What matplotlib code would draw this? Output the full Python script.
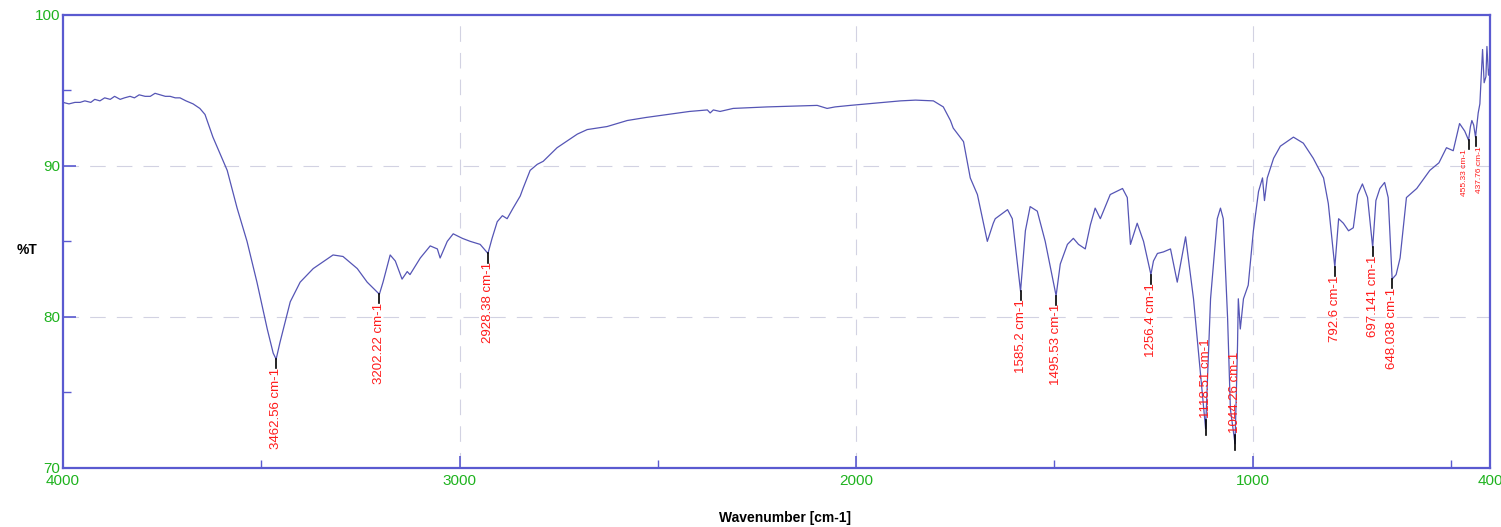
import matplotlib.pyplot as plt
import numpy as np

plt.rcParams['font.family'] = ['Liberation Sans', 'DejaVu Sans']

# FTIR spectrum, wavenumber (cm-1) and transmittance (%T)
wavenumber = [
    4000, 3985, 3970, 3957, 3945, 3930, 3920, 3907, 3895, 3881, 3870, 3856,
    3845, 3831, 3820, 3808, 3793, 3780, 3768, 3755, 3742, 3730, 3717, 3705,
    3690, 3672, 3655, 3642, 3622, 3586, 3561, 3536, 3511, 3485, 3470, 3462.56,
    3453, 3427, 3402, 3369, 3319, 3294, 3258, 3233, 3202.22, 3193, 3175, 3162,
    3145, 3132, 3125, 3099, 3074, 3056, 3049, 3031, 3016, 2993, 2973, 2948,
    2928.38, 2918, 2905, 2892, 2880, 2865, 2847, 2840, 2822, 2804, 2789, 2754,
    2703, 2678, 2628, 2577, 2530, 2476, 2420, 2375, 2368, 2360, 2343, 2310,
    2224, 2160, 2098, 2073, 2053, 2015, 1972, 1930, 1888, 1850, 1805, 1780,
    1762, 1755, 1729, 1712, 1694,
    1669, 1654, 1649, 1618, 1606, 1585.2, 1573, 1561, 1543, 1523, 1495.53, 1485,
    1467, 1452, 1439, 1422, 1409, 1397, 1384, 1359, 1328, 1316, 1308, 1291,
    1275, 1256.4, 1250, 1240, 1225, 1207, 1190, 1169, 1149, 1118.51, 1106, 1089,
    1081, 1074, 1063, 1056, 1044.26, 1038, 1036, 1031, 1023, 1011, 998, 985,
    975, 970, 963, 947, 930, 897, 872, 847, 821, 809, 792.6, 783,
    771, 758, 746, 735, 723, 710, 697.141, 689, 679, 667, 658, 648.038,
    638, 628, 612, 586, 553, 530, 511, 494, 478, 465, 455.33, 450.6,
    447, 442.4, 437.76, 431, 426.8, 420, 416, 411.5, 409, 405, 400,
]
transmittance = [
    94.2, 94.1, 94.2, 94.2, 94.3, 94.2, 94.4, 94.3, 94.5, 94.4, 94.6, 94.4,
    94.5, 94.6, 94.5, 94.7, 94.6, 94.6, 94.8, 94.7, 94.6, 94.6, 94.5, 94.5,
    94.3, 94.1, 93.8, 93.4, 91.9, 89.7, 87.2, 85.0, 82.3, 79.2, 77.6, 77.2,
    78.3, 81.0, 82.3, 83.2, 84.1, 84.0, 83.2, 82.3, 81.5, 82.3, 84.1, 83.7,
    82.5, 83.0, 82.8, 83.9, 84.7, 84.5, 83.9, 85.0, 85.5, 85.2, 85.0, 84.8,
    84.2, 85.2, 86.3, 86.7, 86.5, 87.2, 88.0, 88.5, 89.7, 90.1, 90.3, 91.2,
    92.1, 92.4, 92.6, 93.0, 93.2, 93.4, 93.6, 93.7, 93.5, 93.7, 93.6, 93.8,
    93.9, 93.95, 94.0, 93.8, 93.9, 94.0, 94.1, 94.2, 94.3, 94.35, 94.3, 93.9,
    93.0, 92.5, 91.6, 89.2, 88.1,
    85.0, 86.2, 86.5, 87.1, 86.5, 81.7, 85.7, 87.3, 87.0, 85.0, 81.4, 83.5,
    84.8, 85.2, 84.8, 84.5, 86.1, 87.2, 86.5, 88.1, 88.5, 87.9, 84.8, 86.2,
    85.0, 82.8, 83.7, 84.2, 84.3, 84.5, 82.3, 85.3, 81.2, 72.6, 81.2, 86.5,
    87.2, 86.5, 79.9, 73.9, 71.6, 78.1, 81.2, 79.2, 81.2, 82.1, 85.7, 88.3,
    89.2, 87.7, 89.2, 90.5, 91.3, 91.9, 91.5, 90.5, 89.2, 87.5, 83.3, 86.5,
    86.2, 85.7, 85.9, 88.1, 88.8, 87.9, 84.6, 87.7, 88.5, 88.9, 87.9, 82.5,
    82.8, 83.9, 87.9, 88.5, 89.7, 90.2, 91.2, 91.0, 92.8, 92.3, 91.7, 92.6,
    93.0, 92.7, 91.9, 93.5, 94.1, 97.7, 95.5, 95.9, 97.9, 96.0, 96.8,
]

# labelled absorption bands
peak_wn = [3462.56, 3202.22, 2928.38, 1585.2, 1495.53, 1256.4, 1118.51,
           1044.26, 792.6, 697.141, 648.038, 455.33, 437.76]
peak_text = ['3462.56 cm-1', '3202.22 cm-1', '2928.38 cm-1', '1585.2 cm-1',
             '1495.53 cm-1', '1256.4 cm-1', '1118.51 cm-1', '1044.26 cm-1',
             '792.6 cm-1', '697.141 cm-1', '648.038 cm-1', '455.33 cm-1',
             '437.76 cm-1']

frame_color = '#5a5ad0'
tick_color = '#1fb31f'

fig = plt.figure(figsize=(15.01, 5.27), dpi=100)
ax = fig.add_axes([0.042, 0.112, 0.951, 0.86])

ax.plot(wavenumber, transmittance, color='#5555b5', lw=0.9)

ax.set_xlim(4000, 400)
ax.set_ylim(70, 100)

for wn in [3000, 2000, 1000]:
    ax.axvline(wn, color='#d2d2e2', lw=0.8, ls=(0, (14, 10)), zorder=0)
for t in [90, 80]:
    ax.axhline(t, color='#d2d2e2', lw=0.8, ls=(0, (14, 10)), zorder=0)

for s in ax.spines.values():
    s.set_color(frame_color)
    s.set_linewidth(1.6)

ax.set_xticks([4000, 3000, 2000, 1000, 400])
ax.set_xticks([3500, 2500, 1500, 500], minor=True)
ax.set_yticks([70, 80, 90, 100])
ax.set_yticks([75, 85, 95], minor=True)
ax.tick_params(axis='both', which='both', direction='in', color=frame_color,
               labelcolor=tick_color, labelsize=11)
ax.tick_params(axis='both', which='major', length=9, width=1.2)
ax.tick_params(axis='both', which='minor', length=6, width=1)
ax.tick_params(axis='y', pad=2)
ax.tick_params(axis='x', pad=4)

# peak markers and labels
trans_arr = np.array(transmittance)
wn_arr = np.array(wavenumber)
for wn, txt in zip(peak_wn, peak_text):
    t = trans_arr[np.argmin(np.abs(wn_arr - wn))]
    if wn < 500:
        # the two close bands near 450 cm-1 get small, spread-out labels
        dx = -3 if wn > 450 else 3
        ax.plot([wn, wn], [t, t - 0.6], color='black', lw=1.2)
        ax.annotate(txt, (wn, t - 0.6), xytext=(dx, 0), textcoords='offset points',
                    rotation=90, ha='center', va='top', color='#ff1a1a', fontsize=6)
    elif t < 75:
        ax.plot([wn, wn], [t - 0.4, t + 0.6], color='black', lw=1.2)
        ax.text(wn, t + 0.7, txt, rotation=90, ha='center', va='bottom',
                color='#ff1a1a', fontsize=9.5)
    else:
        ax.plot([wn, wn], [t, t - 0.6], color='black', lw=1.2)
        ax.text(wn, t - 0.55, txt, rotation=90, ha='center', va='top',
                color='#ff1a1a', fontsize=9.5)

fig.text(0.018, 0.525, '%T', fontsize=10, fontweight='bold', ha='center', va='center')
fig.text(0.523, 0.017, 'Wavenumber [cm-1]', fontsize=10, fontweight='bold',
         ha='center', va='center')

fig.savefig('out.png', dpi=100)
